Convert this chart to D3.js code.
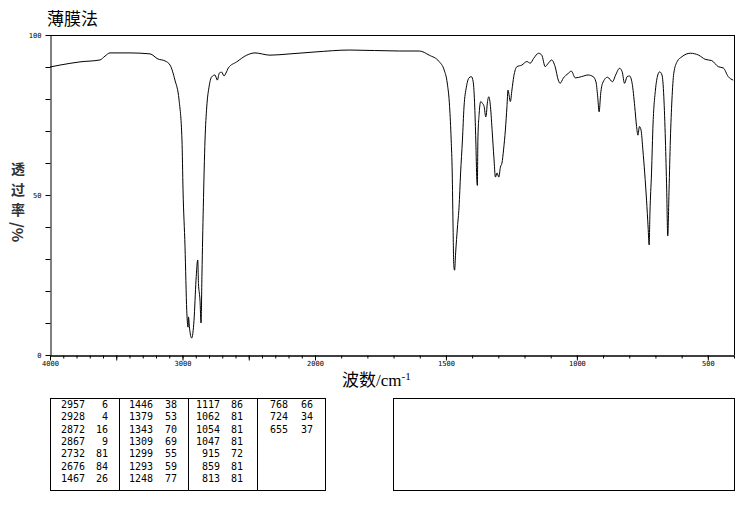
<!DOCTYPE html>
<html><head><meta charset="utf-8">
<script src="https://cdn.jsdelivr.net/npm/d3@7"></script>
<style>
html,body{margin:0;padding:0;background:#fff;}
svg{display:block;}
</style></head>
<body>
<svg id="chart" width="737" height="510"></svg>
<script>
// Spectrum (wavenumber cm-1, transmittance %)
const wavenumber = [4000,3925,3774,3623,3585,3547,3396,3245,3185,3132,3094,3057,3026,3004,2996,2981,2968,2958,2955,2947,2931,2913,2898,2885,2879,2873,2868,2860,2853,2843,2830,2817,2800,2780,2755,2737,2722,2704,2687,2672,2654,2591,2515,2453,2340,2189,2000,1867,1678,1602,1564,1526,1507,1495,1486,1480,1476,1473,1470,1467,1463,1456,1450,1444,1437,1431,1422,1412,1403,1396,1390,1386,1382,1380,1378,1373,1367,1361,1354,1348,1346,1342,1336,1330,1323,1317,1311,1305,1298,1292,1286,1280,1273,1267,1263,1261,1254,1248,1241,1229,1210,1191,1178,1165,1146,1134,1121,1109,1096,1083,1071,1064,1052,1033,1021,1006,982,957,938,927,921,915,909,902,883,864,852,837,827,818,808,799,789,779,772,767,761,755,748,741,734,728,724,721,715,709,700,691,684,675,668,662,657,653,648,643,637,630,617,599,567,535,510,485,460,441,422,403];
const transmittance = [90.0,90.6,91.6,92.2,93.4,94.4,94.4,94.1,92.5,91.9,90.6,85.9,79.7,67.2,51.6,33.8,14.0,8.7,11.9,8.4,5.3,10.9,23.4,29.7,21.9,19.4,17.2,10.0,25.6,46.2,67.2,77.5,83.7,86.9,87.5,85.9,88.1,88.4,87.2,88.1,89.7,91.6,93.7,94.4,93.7,94.1,94.7,95.3,95.0,95.0,93.7,91.7,89.1,85.0,77.6,67.2,56.9,41.2,28.0,26.5,31.9,40.0,46.2,56.9,67.2,77.5,83.7,86.6,87.0,85.4,77.5,67.2,54.7,53.0,67.2,75.6,79.2,78.7,77.6,74.4,75.0,78.7,80.7,77.6,69.4,61.9,55.6,56.9,55.6,58.7,60.0,64.1,70.3,77.6,82.8,82.2,79.2,82.8,87.0,90.1,90.6,91.7,91.2,92.7,94.3,93.7,90.1,91.2,92.2,90.1,85.9,84.9,86.5,88.0,88.7,86.6,87.0,87.5,87.0,85.3,81.2,76.0,81.8,84.9,86.8,85.4,87.5,89.6,88.5,84.9,87.0,87.2,84.9,77.6,71.4,68.7,71.4,70.3,64.1,56.9,48.4,40.0,34.4,44.4,56.9,72.5,82.8,87.5,88.5,87.5,80.7,67.2,51.6,37.2,51.6,67.2,79.7,88.0,91.7,93.2,94.3,93.7,92.4,92.0,90.1,89.7,87.0,85.9];

// Axis tick values / labels
const yTicks = [0,10,20,30,40,50,60,70,80,90,100];
const yLabels = [0,50,100];
const xLabels = [4000,3000,2000,1500,1000,500];

// Peak table
const peakWn = [2957,2928,2872,2867,2732,2676,1467,1446,1379,1343,1309,1299,1293,1248,1117,1062,1054,1047,915,859,813,768,724,655];
const peakT  = [6,4,16,9,81,84,26,38,53,70,69,55,59,77,86,81,81,81,72,81,81,66,34,37];

const titleText = "薄膜法";
const yTitleChars = ["透","过","率"];
const yTitleUnit = "/%";

const svg = d3.select("#chart");
const L = 50, R = 734, T = 35, B = 355;
const x = d3.scaleLinear().domain([4000, 2000, 400]).range([L, 315, R]);
const y = d3.scaleLinear().domain([0, 100]).range([B, T]);

const tickFont = "DejaVu Sans Mono, monospace";

// title
svg.append("text").attr("x", 47).attr("y", 25)
  .attr("font-family", "Noto Sans CJK SC").attr("font-size", 17).attr("fill", "#000")
  .text(titleText);

// frame top & right
svg.append("line").attr("x1", L).attr("x2", R).attr("y1", T + 0.5).attr("y2", T + 0.5).attr("stroke", "#000");
svg.append("line").attr("x1", R + 0.5).attr("x2", R + 0.5).attr("y1", T).attr("y2", B).attr("stroke", "#000");

// x axis: minor ticks
const minorVals = d3.range(400, 4001, 100);
const gMinor = svg.append("g").attr("transform", `translate(0,${B + 0.5})`)
  .call(d3.axisBottom(x).tickValues(minorVals).tickSize(3).tickSizeOuter(0).tickFormat(""));
// major ticks
const majorVals = d3.range(500, 4001, 500);
const gMajor = svg.append("g").attr("transform", `translate(0,${B + 0.5})`)
  .call(d3.axisBottom(x).tickValues(majorVals).tickSize(5).tickSizeOuter(0)
    .tickFormat(d => xLabels.includes(d) ? d : ""));
[gMinor, gMajor].forEach(g => {
  g.selectAll("path").attr("stroke", "#000");
  g.selectAll("line").attr("stroke", "#000");
});
gMajor.selectAll("text").attr("font-family", tickFont).attr("font-size", 7).attr("fill", "#000").attr("dy", "0.55em").attr("y", 7);

// y axis
const gy = svg.append("g").attr("transform", `translate(${L + 0.5},0)`)
  .call(d3.axisLeft(y).tickValues(yTicks).tickSize(5).tickSizeOuter(0)
    .tickFormat(d => yLabels.includes(d) ? d : ""));
gy.selectAll("path").attr("stroke", "#000");
gy.selectAll("line").attr("stroke", "#000");
gy.selectAll("text").attr("font-family", tickFont).attr("font-size", 7).attr("fill", "#000").attr("x", -9);

// spectrum
const pts = wavenumber.map((w, i) => [w, transmittance[i]]);
svg.append("path").datum(pts)
  .attr("fill", "none").attr("stroke", "#000").attr("stroke-width", 1)
  .attr("d", d3.line().x(d => x(d[0])).y(d => y(d[1])).curve(d3.curveMonotoneX));

// y-axis title (stacked vertical characters)
yTitleChars.forEach((c, i) => {
  svg.append("text").attr("x", 18).attr("y", 174 + i * 20.5)
    .attr("text-anchor", "middle")
    .attr("font-family", "Noto Sans CJK SC").attr("font-size", 14).attr("font-weight", "bold")
    .attr("fill", "#333").text(c);
});
svg.append("text").attr("transform", "translate(12,222) rotate(90)")
  .attr("font-family", "Noto Sans CJK SC").attr("font-size", 15).attr("font-weight", "bold")
  .attr("fill", "#333").text(yTitleUnit);

// x-axis title
const xt = svg.append("text").attr("x", 342).attr("y", 386)
  .attr("font-size", 17).attr("fill", "#000");
xt.append("tspan").attr("font-family", "Noto Sans CJK SC").text("波数");
xt.append("tspan").attr("font-family", "Liberation Serif").text("/cm");
xt.append("tspan").attr("font-family", "Liberation Serif").attr("font-size", 11).attr("dy", -6).text("-1");

// peak table
const tbl = svg.append("g");
tbl.append("rect").attr("x", 50.5).attr("y", 398.5).attr("width", 275).attr("height", 92)
  .attr("fill", "none").attr("stroke", "#000");
[119, 188, 257].forEach(cx => tbl.append("line").attr("x1", cx + 0.5).attr("x2", cx + 0.5)
  .attr("y1", 398).attr("y2", 491).attr("stroke", "#000"));
const colWnRight = [85, 153, 220, 288];
const colTRight = [108, 177, 243, 313];
peakWn.forEach((w, i) => {
  const c = Math.floor(i / 7), r = i % 7;
  const yy = 408 + r * 12.3;
  tbl.append("text").attr("x", colWnRight[c]).attr("y", yy).attr("text-anchor", "end")
    .attr("font-family", tickFont).attr("font-size", 10).attr("fill", "#000").text(w);
  tbl.append("text").attr("x", colTRight[c]).attr("y", yy).attr("text-anchor", "end")
    .attr("font-family", tickFont).attr("font-size", 10).attr("fill", "#000").text(peakT[i]);
});
tbl.append("rect").attr("x", 393.5).attr("y", 398.5).attr("width", 341).attr("height", 92)
  .attr("fill", "none").attr("stroke", "#000");
</script>
</body></html>
